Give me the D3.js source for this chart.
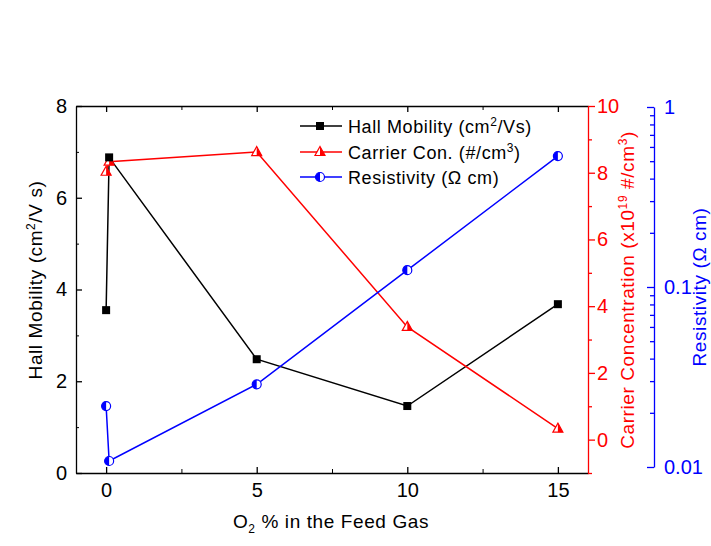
<!DOCTYPE html>
<html>
<head>
<meta charset="utf-8">
<script src="https://cdn.jsdelivr.net/npm/d3@7"></script>
<style>
  body { margin: 0; background: #fff; }
  svg { display: block; font-family: "Liberation Sans", Arial, sans-serif; }
</style>
</head>
<body>
<div id="data-vis"></div>
<script>
// data
const o2Percent = [0, 0.1, 5, 10, 15];
const hallMobility = [3.55, 6.88, 2.48, 1.46, 3.68];
const carrierCon = [8.03, 8.33, 8.62, 3.38, 0.33];
const resistivity = [0.0218, 0.0108, 0.0288, 0.124, 0.534];

const xTicks = [0, 5, 10, 15];
const xMinor = [2.5, 7.5, 12.5];
const hallTicks = [0, 2, 4, 6, 8];
const hallMinor = [1, 3, 5, 7];
const carrierTicks = [0, 2, 4, 6, 8, 10];
const carrierMinor = [-1, 1, 3, 5, 7, 9];
const resTicks = [0.01, 0.1, 1];
const resMinor = [0.02, 0.03, 0.04, 0.05, 0.06, 0.07, 0.08, 0.09, 0.2, 0.3, 0.4, 0.5, 0.6, 0.7, 0.8, 0.9];

const legendNames = ["Hall Mobility", "Carrier Con.", "Resistivity"];

var w = 711, h = 546;
const marginLeft = 76, plotRight = 588, marginTop = 106, plotBottom = 473;
const blueX = 654;
const RED = "#ff0000", BLUE = "#0000ff";

function init(){
    var svg = d3.select("#data-vis").append("svg")
        .attr("width", w).attr("height", h)
        .attr("viewBox", [0, 0, w, h]);

    var x = d3.scaleLinear().domain([-1, 16]).range([marginLeft, plotRight]);
    var yL = d3.scaleLinear().domain([0, 8]).range([plotBottom, marginTop]);
    var yR = d3.scaleLinear().domain([-1, 10]).range([plotBottom, marginTop]);
    var yB = d3.scaleLog().domain([0.01, 1]).range([467, 107]);

    drawAxes(svg, x, yL, yR, yB);

    var hall = o2Percent.map((d, i) => [d, hallMobility[i]]);
    var carr = o2Percent.map((d, i) => [d, carrierCon[i]]);
    var res = o2Percent.map((d, i) => [d, resistivity[i]]);

    // lines
    var line = (ys) => d3.line().x(d => x(d[0])).y(d => ys(d[1]));
    svg.append("path").datum(hall).attr("d", line(yL))
        .attr("fill", "none").attr("stroke", "#000").attr("stroke-width", 1.5);
    svg.append("path").datum(carr).attr("d", line(yR))
        .attr("fill", "none").attr("stroke", RED).attr("stroke-width", 1.5);
    svg.append("path").datum(res).attr("d", line(yB))
        .attr("fill", "none").attr("stroke", BLUE).attr("stroke-width", 1.5);

    // markers
    svg.append("g").selectAll("g").data(res).join("g")
        .attr("transform", d => `translate(${x(d[0])},${yB(d[1])})`)
        .each(function(){ circleMark(d3.select(this)); });
    svg.append("g").selectAll("g").data(carr).join("g")
        .attr("transform", d => `translate(${x(d[0])},${yR(d[1])})`)
        .each(function(){ triangleMark(d3.select(this)); });
    svg.append("g").selectAll("g").data(hall).join("g")
        .attr("transform", d => `translate(${x(d[0])},${yL(d[1])})`)
        .each(function(){ squareMark(d3.select(this)); });

    drawLegend(svg);
}

function squareMark(g){
    g.append("rect").attr("x", -4).attr("y", -4).attr("width", 8).attr("height", 8)
        .attr("fill", "#000");
}

function triangleMark(g){
    g.append("path").attr("d", "M0,-5.5L5,3.5L-5,3.5Z")
        .attr("fill", "#fff").attr("stroke", RED).attr("stroke-width", 1.2);
    g.append("path").attr("d", "M0,-5.5L5,3.5L0,3.5Z").attr("fill", RED);
}

function circleMark(g){
    g.append("circle").attr("r", 4.5)
        .attr("fill", "#fff").attr("stroke", BLUE).attr("stroke-width", 1.2);
    g.append("path").attr("d", "M0,-4.5A4.5,4.5 0 0,0 0,4.5Z").attr("fill", BLUE);
}

function drawAxes(svg, x, yL, yR, yB){
    const fs = "20px";

    // bottom
    svg.append("g").attr("transform", `translate(0,${plotBottom})`)
        .call(d3.axisBottom(x).tickValues(xTicks).tickSizeInner(-6).tickSizeOuter(0).tickPadding(10))
        .call(g => g.selectAll("text").attr("font-size", fs).attr("fill", "#000"))
        .call(g => g.selectAll("path,line").attr("stroke", "#000").attr("stroke-width", 1.3));
    svg.append("g").attr("transform", `translate(0,${plotBottom})`)
        .call(d3.axisBottom(x).tickValues(xMinor).tickSizeInner(-4).tickSizeOuter(0).tickFormat(""))
        .call(g => g.select(".domain").remove());

    // top
    svg.append("g").attr("transform", `translate(0,${marginTop})`)
        .call(d3.axisTop(x).tickValues(xTicks).tickSizeInner(-6).tickSizeOuter(0).tickFormat(""))
        .call(g => g.selectAll("path,line").attr("stroke", "#000").attr("stroke-width", 1.3));
    svg.append("g").attr("transform", `translate(0,${marginTop})`)
        .call(d3.axisTop(x).tickValues(xMinor).tickSizeInner(-4).tickSizeOuter(0).tickFormat(""))
        .call(g => g.select(".domain").remove());

    // left
    svg.append("g").attr("transform", `translate(${marginLeft},0)`)
        .call(d3.axisLeft(yL).tickValues(hallTicks).tickSizeInner(-6).tickSizeOuter(0).tickPadding(9))
        .call(g => g.selectAll("text").attr("font-size", fs).attr("fill", "#000"))
        .call(g => g.selectAll("path,line").attr("stroke", "#000").attr("stroke-width", 1.3));
    svg.append("g").attr("transform", `translate(${marginLeft},0)`)
        .call(d3.axisLeft(yL).tickValues(hallMinor).tickSizeInner(-3).tickSizeOuter(0).tickFormat(""))
        .call(g => g.select(".domain").remove());

    // right (red)
    svg.append("g").attr("transform", `translate(${plotRight},0)`)
        .call(d3.axisRight(yR).tickValues(carrierTicks).tickSizeInner(7).tickSizeOuter(0).tickPadding(2))
        .call(g => g.selectAll("text").attr("font-size", fs).attr("fill", RED))
        .call(g => g.selectAll("path,line").attr("stroke", RED).attr("stroke-width", 1.3));
    svg.append("g").attr("transform", `translate(${plotRight},0)`)
        .call(d3.axisRight(yR).tickValues(carrierMinor).tickSizeInner(4).tickSizeOuter(0).tickFormat(""))
        .call(g => g.select(".domain").remove())
        .call(g => g.selectAll("line").attr("stroke", RED).attr("stroke-width", 1.3));

    // far right (blue, log)
    svg.append("g").attr("transform", `translate(${blueX},0)`)
        .call(d3.axisRight(yB).tickValues(resTicks).tickSizeInner(-7).tickSizeOuter(0).tickPadding(10)
            .tickFormat(d => d === 1 ? "1" : d === 0.1 ? "0.1" : "0.01"))
        .call(g => g.selectAll("text").attr("font-size", fs).attr("fill", BLUE))
        .call(g => g.selectAll("path,line").attr("stroke", BLUE).attr("stroke-width", 1.3));
    svg.append("g").attr("transform", `translate(${blueX},0)`)
        .call(d3.axisRight(yB).tickValues(resMinor).tickSizeInner(-4).tickSizeOuter(0).tickFormat(""))
        .call(g => g.select(".domain").remove())
        .call(g => g.selectAll("line").attr("stroke", BLUE).attr("stroke-width", 1.3));

    svg.selectAll("g[font-family]").attr("font-family", null).attr("font-size", null);

    // axis titles
    var t = svg.append("text").attr("x", 331).attr("y", 528).attr("text-anchor", "middle")
        .attr("font-size", "19px").attr("letter-spacing", "0.6px");
    t.append("tspan").text("O");
    t.append("tspan").attr("font-size", "12px").attr("dy", 5).text("2");
    t.append("tspan").attr("dy", -5).text(" % in the Feed Gas");

    var tl = svg.append("text").attr("transform", "translate(42,280) rotate(-90)")
        .attr("text-anchor", "middle").attr("font-size", "19px").attr("letter-spacing", "0.6px");
    tl.append("tspan").text("Hall Mobility (cm");
    tl.append("tspan").attr("font-size", "12px").attr("dy", -7).text("2");
    tl.append("tspan").attr("dy", 7).text("/V s)");

    var tr = svg.append("text").attr("transform", "translate(634,290) rotate(-90)")
        .attr("text-anchor", "middle").attr("font-size", "19px").attr("letter-spacing", "0.6px")
        .attr("fill", RED);
    tr.append("tspan").text("Carrier Concentration (x10");
    tr.append("tspan").attr("font-size", "12px").attr("dy", -7).text("19");
    tr.append("tspan").attr("dy", 7).text(" #/cm");
    tr.append("tspan").attr("font-size", "12px").attr("dy", -7).text("3");
    tr.append("tspan").attr("dy", 7).text(")");

    svg.append("text").attr("transform", "translate(706,287) rotate(-90)")
        .attr("text-anchor", "middle").attr("font-size", "19px").attr("letter-spacing", "0.6px")
        .attr("fill", BLUE).text("Resistivity (\u03A9 cm)");
}

function drawLegend(svg){
    const rows = [126, 152, 177];
    const colors = ["#000", RED, BLUE];
    const marks = [squareMark, triangleMark, circleMark];
    const sup = ["2", "3", null];
    const pre = ["Hall Mobility (cm", "Carrier Con. (#/cm", "Resistivity (\u03A9 cm)"];
    const post = ["/Vs)", ")", ""];

    legendNames.forEach((name, i) => {
        var g = svg.append("g").attr("transform", `translate(0,${rows[i]})`);
        g.append("line").attr("x1", 300).attr("x2", 342).attr("stroke", colors[i]).attr("stroke-width", 1.5);
        marks[i](g.append("g").attr("transform", "translate(320,0)"));
        var t = g.append("text").attr("x", 348).attr("y", 6.5)
            .attr("font-size", "18px").attr("letter-spacing", "0.6px");
        t.append("tspan").text(pre[i]);
        if (sup[i]) {
            t.append("tspan").attr("font-size", "12px").attr("dy", -7).text(sup[i]);
            t.append("tspan").attr("dy", 7).text(post[i]);
        }
    });
}

window.onload = init;
</script>
</body>
</html>
